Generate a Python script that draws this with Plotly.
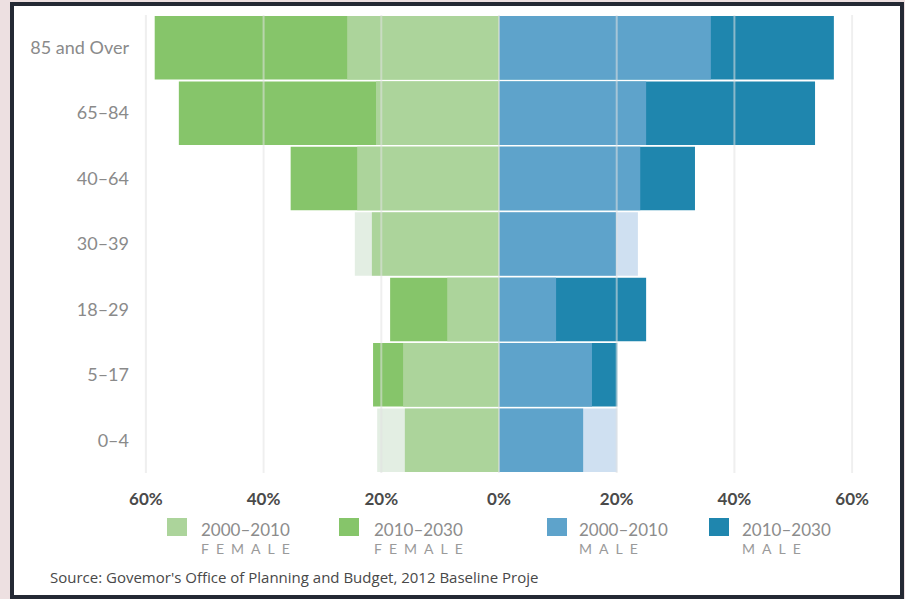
import plotly.graph_objects as go

# ---------------- data ----------------
age_groups = ["0–4", "5–17", "18–29", "30–39", "40–64", "65–84", "85 and Over"]

# percent change, female shown to the left (negative side)
female_2000_2010 = [16.0, 16.3, 8.8, 21.6, 24.1, 20.9, 25.8]
female_2010_2030 = [None, 21.4, 18.5, None, 35.4, 54.4, 58.5]
female_decline   = [20.7, None, None, 24.5, None, None, None]   # pale bars

male_2000_2010 = [14.3, 15.8, 9.7, 19.9, 24.0, 25.0, 36.0]
male_2010_2030 = [None, 20.1, 25.0, None, 33.3, 53.7, 56.9]
male_decline   = [20.1, None, None, 23.6, None, None, None]     # pale bars

tick_vals = [-60, -40, -20, 0, 20, 40, 60]
tick_text = ["60%", "40%", "20%", "0%", "20%", "40%", "60%"]

legend_years = ["2000–2010", "2010–2030", "2000–2010", "2010–2030"]
legend_sex = ["FEMALE", "FEMALE", "MALE", "MALE"]

source_text = "Source: Govemor's Office of Planning and Budget, 2012 Baseline Proje"

# ---------------- style ----------------
C_LG = "#acd49b"
C_DG = "#86c56a"
C_PG = "#e3eee3"
C_LB = "#5ea3cb"
C_DB = "#1f86ae"
C_PB = "#cfe0f1"
FONT = "Lato"

W, H = 905, 599
ML, MR, MT, MB = 140, 47, 15, 126
PW, PH = W - ML - MR, H - MT - MB


def px(x):
    return (x - ML) / PW


def py(y):
    return (H - MB - y) / PH


def neg(v):
    return [None if a is None else -a for a in v]


def spaced(s):
    return "\u2002".join(s)


fig = go.Figure()
# back bars first, light bars on top
fig.add_trace(go.Bar(y=age_groups, x=neg(female_2010_2030), orientation="h",
                     marker=dict(color=C_DG, line=dict(width=0)), name="2010–2030 FEMALE"))
fig.add_trace(go.Bar(y=age_groups, x=neg(female_decline), orientation="h",
                     marker=dict(color=C_PG, line=dict(width=0)), name="female decline"))
fig.add_trace(go.Bar(y=age_groups, x=male_2010_2030, orientation="h",
                     marker=dict(color=C_DB, line=dict(width=0)), name="2010–2030 MALE"))
fig.add_trace(go.Bar(y=age_groups, x=male_decline, orientation="h",
                     marker=dict(color=C_PB, line=dict(width=0)), name="male decline"))
fig.add_trace(go.Bar(y=age_groups, x=neg(female_2000_2010), orientation="h",
                     marker=dict(color=C_LG, line=dict(width=0)), name="2000–2010 FEMALE"))
fig.add_trace(go.Bar(y=age_groups, x=male_2000_2010, orientation="h",
                     marker=dict(color=C_LB, line=dict(width=0)), name="2000–2010 MALE"))

shapes = []
# outer frame
shapes.append(dict(type="rect", xref="paper", yref="paper",
                   x0=px(12), x1=px(902), y0=py(4), y1=py(597),
                   fillcolor="white", line=dict(color="#242934", width=4), layer="below"))
# gridlines drawn over the bars
for v in tick_vals:
    shapes.append(dict(type="line", xref="x", yref="paper", x0=v, x1=v, y0=0, y1=1,
                       line=dict(color="rgba(225,225,225,0.55)", width=2), layer="above"))

# legend (squares + two-line labels)
legend_colors = [C_LG, C_DG, C_LB, C_DB]
legend_sq_x = [167, 339, 547, 709]
legend_txt_x = [199, 372, 577, 740]
annotations = []
for i in range(4):
    shapes.append(dict(type="rect", xref="paper", yref="paper",
                       x0=px(legend_sq_x[i]), x1=px(legend_sq_x[i] + 20),
                       y0=py(536), y1=py(518), fillcolor=legend_colors[i],
                       line=dict(width=0)))
    annotations.append(dict(xref="paper", yref="paper", x=px(legend_txt_x[i]), y=py(529),
                            xanchor="left", yanchor="middle", showarrow=False,
                            text=legend_years[i],
                            font=dict(family=FONT, size=17, color="#8c8c8c")))
    annotations.append(dict(xref="paper", yref="paper", x=px(legend_txt_x[i]), y=py(548),
                            xanchor="left", yanchor="middle", showarrow=False,
                            text=spaced(legend_sex[i]),
                            font=dict(family=FONT, size=14, color="#9a9a9a")))

annotations.append(dict(xref="paper", yref="paper", x=px(48), y=py(577),
                        xanchor="left", yanchor="middle", showarrow=False,
                        text=source_text,
                        font=dict(family="Open Sans", size=15, color="#484848")))

fig.update_layout(
    width=W, height=H,
    margin=dict(l=ML, r=MR, t=MT, b=MB, pad=0),
    paper_bgcolor="#ede0e1",
    plot_bgcolor="rgba(0,0,0,0)",
    barmode="overlay",
    bargap=0.03,
    showlegend=False,
    shapes=shapes,
    annotations=annotations,
    font=dict(family=FONT),
)
fig.update_xaxes(range=[-61, 61], tickvals=tick_vals, ticktext=tick_text,
                 showgrid=False, zeroline=False, showline=False, ticks="",
                 ticklabelstandoff=14,
                 tickfont=dict(family=FONT, size=17, color="#4a4a4a", weight="bold"),
                 fixedrange=True)
fig.update_yaxes(categoryorder="array", categoryarray=age_groups,
                 range=[-0.5, 6.5], showgrid=False, zeroline=False, showline=False,
                 ticks="", ticklabelstandoff=10,
                 tickfont=dict(family=FONT, size=18, color="#8a8a8a"),
                 fixedrange=True)

fig.write_html("out.html",
               config={"displayModeBar": False},
               post_script="document.body.style.margin='0';document.body.style.overflow='hidden';")
